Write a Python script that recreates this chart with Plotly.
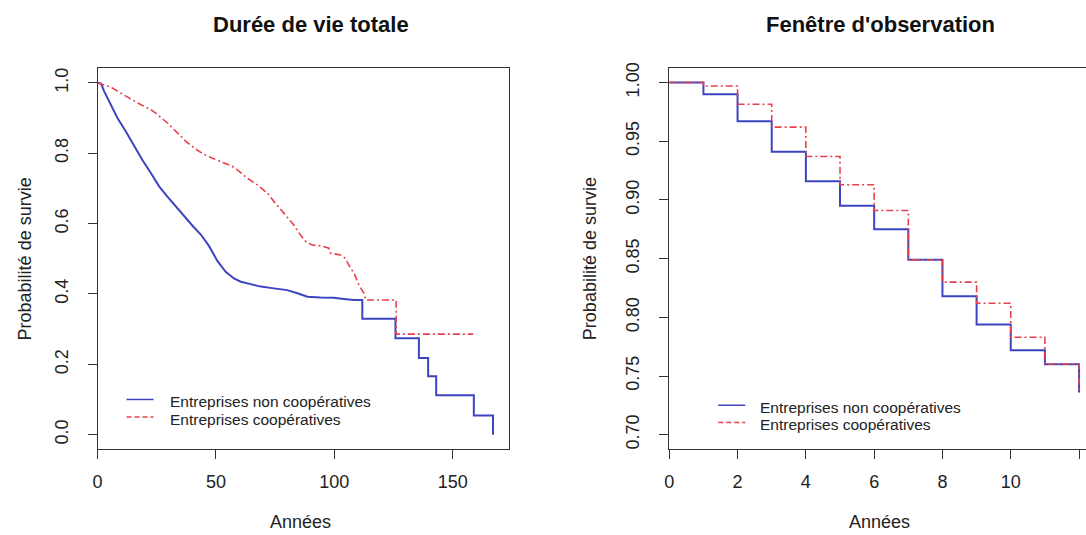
import plotly.graph_objects as go

# ---------------- Data: left panel (Durée de vie totale) ----------------
# Kaplan-Meier estimates (repeated times = vertical drops)
t_noncoop = [0, 1.5, 2.8, 5.6, 8.4, 11.95, 15.5, 19.0, 22.5, 26.0, 29.5, 33.0, 36.6,
             40.1, 43.6, 47.1, 50.6, 54.1, 57.6, 60.5, 64.7, 68.9, 74.5, 80.1, 84.4,
             88.6, 94.2, 99.8, 104.0, 108.3, 111.8, 111.8, 125.8, 125.8, 135.7, 135.7,
             139.6, 139.6, 143.0, 143.0, 158.9, 158.9, 167.0, 167.0]
s_noncoop = [1.0, 0.998, 0.976, 0.938, 0.900, 0.862, 0.820, 0.780, 0.744, 0.706, 0.677,
             0.649, 0.620, 0.594, 0.569, 0.536, 0.494, 0.463, 0.444, 0.435, 0.428,
             0.421, 0.416, 0.411, 0.402, 0.392, 0.390, 0.389, 0.386, 0.383, 0.383,
             0.330, 0.330, 0.274, 0.274, 0.218, 0.218, 0.166, 0.166, 0.112, 0.112,
             0.055, 0.055, 0.0]

t_coop = [0, 2.8, 5.6, 9.8, 14.1, 18.3, 22.5, 25.3, 29.5, 33.7, 37.3, 40.8, 44.3, 47.8,
          52.0, 56.9, 59.0, 63.3, 67.5, 71.7, 74.5, 78.0, 80.9, 82.9, 85.1, 87.9, 90.7,
          94.2, 97.7, 98.4, 102.6, 104.7, 106.1, 108.3, 110.4, 112.5, 113.2, 126.1,
          126.1, 158.6]
s_coop = [1.0, 0.995, 0.988, 0.971, 0.954, 0.938, 0.924, 0.910, 0.886, 0.858, 0.834,
          0.815, 0.799, 0.788, 0.777, 0.763, 0.753, 0.729, 0.710, 0.687, 0.663, 0.634,
          0.611, 0.596, 0.573, 0.549, 0.539, 0.537, 0.530, 0.516, 0.511, 0.501, 0.482,
          0.459, 0.425, 0.402, 0.383, 0.383, 0.286, 0.286]

# ---------------- Data: right panel (Fenêtre d'observation) ----------------
years = [0, 1, 2, 3, 4, 5, 6, 7, 8, 9, 10, 11, 12]
surv_noncoop_obs = [1.000, 0.990, 0.967, 0.941, 0.916, 0.895, 0.875, 0.849, 0.818,
                    0.794, 0.772, 0.760, 0.736]
surv_coop_obs = [1.000, 0.997, 0.9815, 0.962, 0.937, 0.913, 0.891, 0.849, 0.830,
                 0.812, 0.783, 0.760, 0.736]

# ---------------- Text ----------------
title_left = "Durée de vie totale"
title_right = "Fenêtre d'observation"
x_title = "Années"
y_title = "Probabilité de survie"
legend_labels = ["Entreprises non coopératives", "Entreprises coopératives"]
xticks_left = [0, 50, 100, 150]
yticks_left = [0.0, 0.2, 0.4, 0.6, 0.8, 1.0]
xticks_right = [0, 2, 4, 6, 8, 10, 12]
yticks_right = [0.70, 0.75, 0.80, 0.85, 0.90, 0.95, 1.00]

BLUE = "#3c44c0"
RED = "#e8404a"
FONT = "Liberation Sans, Arial, sans-serif"
TXT = "#222222"
DASHDOT = "7px,3px,2px,3px"

fig = go.Figure()

# Left panel curves
fig.add_trace(go.Scatter(x=t_noncoop, y=s_noncoop, mode="lines", name=legend_labels[0],
                         line=dict(color=BLUE, width=2), showlegend=False, xaxis="x", yaxis="y"))
fig.add_trace(go.Scatter(x=t_coop, y=s_coop, mode="lines", name=legend_labels[1],
                         line=dict(color=RED, width=1.6, dash=DASHDOT), showlegend=False, xaxis="x", yaxis="y"))
# Right panel curves
fig.add_trace(go.Scatter(x=years, y=surv_noncoop_obs, mode="lines", name=legend_labels[0],
                         line=dict(color=BLUE, width=2, shape="hv"), showlegend=False, xaxis="x2", yaxis="y2"))
fig.add_trace(go.Scatter(x=years, y=surv_coop_obs, mode="lines", name=legend_labels[1],
                         line=dict(color=RED, width=1.6, dash=DASHDOT, shape="hv"), showlegend=False,
                         xaxis="x2", yaxis="y2"))

W, H = 1086, 535
# empirical correction between layout pixels and the photographed pixels
def px(x):
    return ((x - 4.4) / 0.9959) / W
def py(y):
    return (H - (y - 5.9) / 0.986) / H

left_x0, left_x1 = px(97), px(508.3)
right_x0 = px(669)
x12 = px(1079)
right_range_max = 12 * (1.0 - right_x0) / (x12 - right_x0)

axis_common = dict(showgrid=False, zeroline=False, showline=True, linecolor="#333333", linewidth=1,
                   ticks="outside", ticklen=9, tickcolor="#333333", tickwidth=1,
                   tickfont=dict(family=FONT, size=18, color=TXT))

annotations = [
    dict(text=f"<b>{title_left}</b>", x=px(311), y=py(24)),
    dict(text=f"<b>{title_right}</b>", x=px(880), y=py(24)),
    dict(text=y_title, x=px(24), y=py(258.5), textangle=-90),
    dict(text=y_title, x=px(590), y=py(258.5), textangle=-90),
]
for a in annotations:
    a.update(xref="paper", yref="paper", xanchor="center", yanchor="middle", showarrow=False)
    bold = a["text"].startswith("<b>")
    a["font"] = dict(family=FONT, size=22 if bold else 18, color="#111111" if bold else TXT)

# x-axis titles, kept fully inside the bottom edge
for xc in (300.5, 879.5):
    annotations.append(dict(text=x_title, x=px(xc), y=0, xref="paper", yref="paper",
                            xanchor="center", yanchor="bottom", showarrow=False,
                            font=dict(family=FONT, size=18, color=TXT)))

# Custom legends (compact R-style line spacing)
shapes = []
legend_specs = [
    # (line x0, line x1, text x, row y centres)
    (126, 153, 167, [401.5, 419.0]),
    (718, 745, 758, [407.3, 424.5]),
]
styles = [dict(color=BLUE, width=1.5), dict(color=RED, width=1.5, dash="5px,3px")]
for lx0, lx1, tx, rows in legend_specs:
    for label, style, ry in zip(legend_labels, styles, rows):
        shapes.append(dict(type="line", xref="paper", yref="paper", x0=px(lx0), x1=px(lx1),
                           y0=py(ry - 2.5), y1=py(ry - 2.5), line=style))
        annotations.append(dict(text=label, x=px(tx), y=py(ry), xref="paper", yref="paper",
                                xanchor="left", yanchor="middle", showarrow=False,
                                font=dict(family=FONT, size=15.5, color=TXT)))

fig.update_layout(
    width=W, height=H,
    margin=dict(l=0, r=0, t=0, b=0),
    paper_bgcolor="white", plot_bgcolor="white",
    showlegend=False,
    xaxis=dict(domain=[left_x0, left_x1], range=[0, 173.6], tickvals=xticks_left,
               mirror=True, anchor="y", ticklabelstandoff=8, **axis_common),
    yaxis=dict(domain=[py(448.3), py(68.3)], range=[-0.04, 1.041], tickvals=yticks_left,
               ticktext=[f"{v:.1f}" for v in yticks_left], tickangle=-90,
               mirror=True, anchor="x", ticklabelstandoff=12, **axis_common),
    xaxis2=dict(domain=[right_x0, 1.0], range=[0, right_range_max], tickvals=xticks_right,
                mirror=True, anchor="y2", ticklabelstandoff=8, **axis_common),
    yaxis2=dict(domain=[py(448.3), py(68.3)], range=[0.688, 1.012], tickvals=yticks_right,
                ticktext=[f"{v:.2f}" for v in yticks_right], tickangle=-90,
                mirror=False, anchor="x2", ticklabelstandoff=13, **axis_common),
    annotations=annotations,
    shapes=shapes,
)

fig.write_html("out.html", config={"displayModeBar": False},
               post_script="document.body.style.margin='0';")
